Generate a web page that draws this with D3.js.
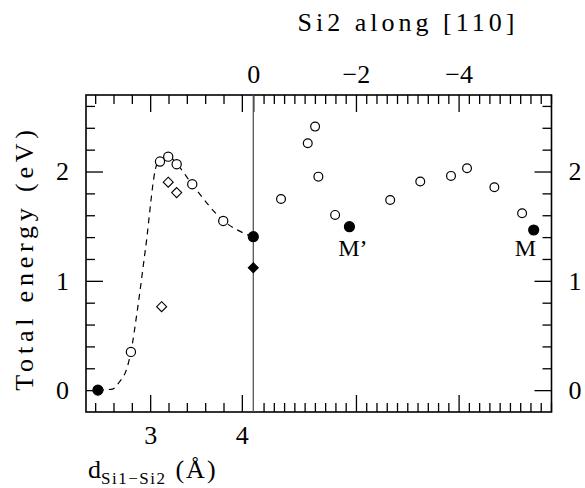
<!DOCTYPE html>
<html>
<head>
<meta charset="utf-8">
<script src="https://cdn.jsdelivr.net/npm/d3@7"></script>
<style>
  body { margin: 0; background: #fff; }
  svg { display: block; }
  svg text { font-family: "Liberation Serif", "Times New Roman", serif !important; fill: #000; }
</style>
</head>
<body>
<svg id="chart" width="585" height="488"></svg>
<script>
// left half: Si1-Si2 distance (A), right half: Si2 displacement along [110]
const bondOpenD = [2.79, 3.107, 3.197, 3.289, 3.459, 3.797];
const bondOpenE = [0.35, 2.091, 2.136, 2.067, 1.884, 1.548];
const bondDiamondD = [3.125, 3.197, 3.289];
const bondDiamondE = [0.763, 1.902, 1.807];
const bondFilledD = [2.43];
const bondFilledE = [0.0];

// dashed guide through the distance points
const curveD = [2.43, 2.59, 2.66, 2.75, 2.79, 2.86, 2.95, 3.07, 3.11, 3.2, 3.29, 3.46, 3.8, 4.125];
const curveE = [0.0, 0.01, 0.07, 0.21, 0.35, 0.73, 1.30, 2.06, 2.10, 2.14, 2.07, 1.88, 1.55, 1.40];

const pathOpenS = [-0.54, -1.061, -1.204, -1.268, -1.594, -2.667, -3.253, -3.852, -4.164, -4.697, -5.237];
const pathOpenE = [1.749, 2.259, 2.411, 1.953, 1.603, 1.740, 1.908, 1.960, 2.030, 1.856, 1.618];
const pathFilledS = [0, -1.873, -5.463];
const pathFilledE = [1.404, 1.495, 1.465];
const pathDiamondS = [0];
const pathDiamondE = [1.12];

const labelText = ["M\u2019", "M"];
const labelS = [-1.653, -5.30];
const labelE = [1.227, 1.227];

const energyTicks = [0, 1, 2];
const bondTicks = [3, 4];
const pathTicks = [-2, -4];

(function(d3) {
  const plotL = 86, plotR = 551.5, plotT = 95, plotB = 412, split = 253.3;
  const FONT = "'Liberation Serif', 'Times New Roman', serif";

  const svg = d3.select("#chart");

  const xL = d3.scaleLinear().domain([2.3, 4.125]).range([plotL, split]);
  const xR = d3.scaleLinear().domain([0, -5.81]).range([split, plotR]);
  const y = d3.scaleLinear().domain([-0.2, 2.7]).range([plotB, plotT]);

  function minorTicks(a, b, step) {
    const out = [];
    for (let v = a; v <= b + 1e-9; v += step) out.push(+v.toFixed(2));
    return out;
  }
  const eMinor = minorTicks(0, 2.6, 0.2).filter(v => !energyTicks.includes(v));
  const dMinor = minorTicks(2.4, 4.0, 0.2).filter(v => !bondTicks.includes(v));
  const sMinor = minorTicks(0.2, 5.8, 0.2).map(v => -v).filter(v => !pathTicks.includes(v));

  function styleAxis(g) {
    g.attr("font-family", null);
    g.select(".domain").remove();
    g.selectAll("line").attr("stroke", "#000").attr("stroke-width", 1.3);
    g.selectAll("text").style("font-family", FONT).style("font-size", "26px");
  }

  // minor ticks
  svg.append("g").attr("transform", `translate(${plotL},0)`)
    .call(d3.axisLeft(y).tickValues(eMinor).tickSize(-9).tickFormat("")).call(styleAxis);
  svg.append("g").attr("transform", `translate(${plotR},0)`)
    .call(d3.axisRight(y).tickValues(eMinor).tickSize(-9).tickFormat("")).call(styleAxis);
  svg.append("g").attr("transform", `translate(0,${plotB})`)
    .call(d3.axisBottom(xL).tickValues(dMinor).tickSize(-9).tickFormat("")).call(styleAxis);
  svg.append("g").attr("transform", `translate(0,${plotT})`)
    .call(d3.axisTop(xL).tickValues(dMinor).tickSize(-9).tickFormat("")).call(styleAxis);
  svg.append("g").attr("transform", `translate(0,${plotB})`)
    .call(d3.axisBottom(xR).tickValues(sMinor).tickSize(-9).tickFormat("")).call(styleAxis);
  svg.append("g").attr("transform", `translate(0,${plotT})`)
    .call(d3.axisTop(xR).tickValues(sMinor).tickSize(-9).tickFormat("")).call(styleAxis);

  // major ticks + labels
  svg.append("g").attr("transform", `translate(${plotL},0)`)
    .call(d3.axisLeft(y).tickValues(energyTicks).tickSize(-17).tickPadding(17).tickFormat(d3.format("d")))
    .call(styleAxis);
  svg.append("g").attr("transform", `translate(${plotR},0)`)
    .call(d3.axisRight(y).tickValues(energyTicks).tickSize(-17).tickPadding(17).tickFormat(d3.format("d")))
    .call(styleAxis);
  svg.append("g").attr("transform", `translate(0,${plotB})`)
    .call(d3.axisBottom(xL).tickValues(bondTicks).tickSize(-17).tickPadding(14).tickFormat(d3.format("d")))
    .call(styleAxis);
  svg.append("g").attr("transform", `translate(0,${plotT})`)
    .call(d3.axisTop(xL).tickValues(bondTicks).tickSize(-17).tickFormat(""))
    .call(styleAxis);
  svg.append("g").attr("transform", `translate(0,${plotB})`)
    .call(d3.axisBottom(xR).tickValues(pathTicks).tickSize(-17).tickFormat(""))
    .call(styleAxis);
  svg.append("g").attr("transform", `translate(0,${plotT})`)
    .call(d3.axisTop(xR).tickValues([0].concat(pathTicks)).tickSize(-17).tickPadding(12).tickFormat(d3.format("d")))
    .call(styleAxis);

  // frame and divider
  svg.append("rect").attr("x", plotL).attr("y", plotT)
    .attr("width", plotR - plotL).attr("height", plotB - plotT)
    .attr("fill", "none").attr("stroke", "#000").attr("stroke-width", 1.6);
  svg.append("line").attr("x1", split).attr("x2", split).attr("y1", plotT).attr("y2", plotB)
    .attr("stroke", "#555").attr("stroke-width", 1.3);

  // dashed curve
  const curvePts = curveD.map((d, i) => [xL(d), y(curveE[i])]);
  svg.append("path")
    .attr("d", d3.line().curve(d3.curveMonotoneX)(curvePts))
    .attr("fill", "none").attr("stroke", "#000").attr("stroke-width", 1.2)
    .attr("stroke-dasharray", "6,5");

  const diamond = r => `M0,${-r}L${r},0L0,${r}L${-r},0Z`;

  function circles(xs, es, sx, filled, r) {
    svg.append("g").selectAll("circle")
      .data(xs.map((d, i) => [d, es[i]]))
      .join("circle")
      .attr("cx", d => sx(d[0])).attr("cy", d => y(d[1])).attr("r", r)
      .attr("fill", filled ? "#000" : "#fff")
      .attr("stroke", "#000").attr("stroke-width", 1.2);
  }
  function diamonds(xs, es, sx, filled, r) {
    svg.append("g").selectAll("path")
      .data(xs.map((d, i) => [d, es[i]]))
      .join("path")
      .attr("d", diamond(r))
      .attr("transform", d => `translate(${sx(d[0])},${y(d[1])})`)
      .attr("fill", filled ? "#000" : "#fff")
      .attr("stroke", "#000").attr("stroke-width", 1.1);
  }

  circles(bondOpenD, bondOpenE, xL, false, 4.6);
  diamonds(bondDiamondD, bondDiamondE, xL, false, 5);
  circles(bondFilledD, bondFilledE, xL, true, 5);
  circles(pathOpenS, pathOpenE, xR, false, 4.4);
  circles(pathFilledS, pathFilledE, xR, true, 5);
  diamonds(pathDiamondS, pathDiamondE, xR, true, 5);

  // M / M' labels
  svg.append("g").selectAll("text")
    .data(labelText)
    .join("text")
    .attr("x", (d, i) => xR(labelS[i]))
    .attr("y", (d, i) => y(labelE[i]))
    .attr("text-anchor", (d, i) => i === 0 ? "start" : "middle")
    .style("font-family", FONT).style("font-size", "24px")
    .text(d => d);

  // titles
  svg.append("text")
    .attr("x", 408).attr("y", 31)
    .attr("text-anchor", "middle")
    .style("font-family", FONT).style("font-size", "26px").style("letter-spacing", "4px")
    .text("Si2 along [110]");

  svg.append("text")
    .attr("transform", "translate(33,258) rotate(-90)")
    .attr("text-anchor", "middle")
    .style("font-family", FONT).style("font-size", "26px").style("letter-spacing", "4.8px")
    .text("Total energy (eV)");

  const xl = svg.append("text").attr("x", 88).attr("y", 478)
    .style("font-family", FONT).style("font-size", "26px");
  xl.append("tspan").text("d");
  xl.append("tspan").style("font-size", "17px").attr("dy", 6).style("letter-spacing", "1.5px").text("Si1\u2212Si2");
  xl.append("tspan").attr("dy", -6).attr("dx", 9).style("letter-spacing", "2px").text("(\u00C5)");
})(d3);
</script>
</body>
</html>
